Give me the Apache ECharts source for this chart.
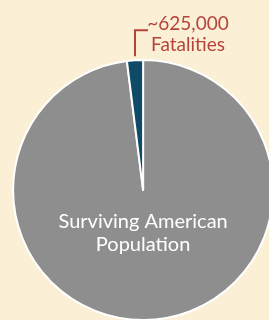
<!DOCTYPE html>
<html>
<head>
<meta charset="utf-8">
<script src="https://cdn.jsdelivr.net/npm/echarts@6/dist/echarts.min.js"></script>
<style>
  html, body { margin: 0; padding: 0; background: #fbefd5; }
  #chart { width: 269px; height: 320px; }
</style>
</head>
<body>
<div id="chart"></div>
<script>
  // 数据
  const names = ['Surviving American Population', 'Fatalities']
  const values = [30818000, 625000]
  const labels = ['Surviving American\nPopulation', '~625,000\nFatalities']
  const colors = ['#8e8e8e', '#0f4a66']

  let chart = echarts.init(document.getElementById('chart'))
  chart.setOption({
    backgroundColor: '#fbefd5',
    animation: false,
    series: [
      {
        type: 'pie',
        center: ['53.2%', '59.4%'],
        radius: 130,
        startAngle: 90,
        clockwise: true,
        itemStyle: {
          borderColor: '#ffffff',
          borderWidth: 2
        },
        data: names.map((n, i) => ({
          name: n,
          value: values[i],
          itemStyle: { color: colors[i] },
          label: i === 0 ? {
            show: true,
            position: 'inside',
            formatter: labels[0],
            color: '#ffffff',
            fontFamily: 'Lato',
            fontSize: 20,
            lineHeight: 23,
            align: 'center'
          } : {
            show: true,
            position: 'outside',
            formatter: labels[1],
            color: '#b5443c',
            fontFamily: 'Lato',
            fontSize: 19,
            lineHeight: 21,
            align: 'center'
          },
          labelLine: i === 0 ? { show: false } : {
            show: true,
            length: 20,
            length2: 12,
            lineStyle: { color: '#b5443c', width: 2 }
          }
        })),
        labelLayout: function(params) {
          if (params.dataIndex === 0) {
            // 内部标签放在圆心下方
            let cx = params.rect.x + params.rect.width / 2
            let cy = params.rect.y + params.rect.height / 2
            return { x: cx, y: cy + 43, align: 'center', verticalAlign: 'middle' }
          }
          let p = params.labelLinePoints[0]
          let ax = p[0], ay = p[1]
          return {
            x: ax + 53,
            y: ay - 47,
            align: 'center',
            verticalAlign: 'top',
            labelLinePoints: [[ax, ay - 4], [ax, ay - 30], [ax + 13, ay - 30]]
          }
        }
      }
    ]
  })
</script>
</body>
</html>
